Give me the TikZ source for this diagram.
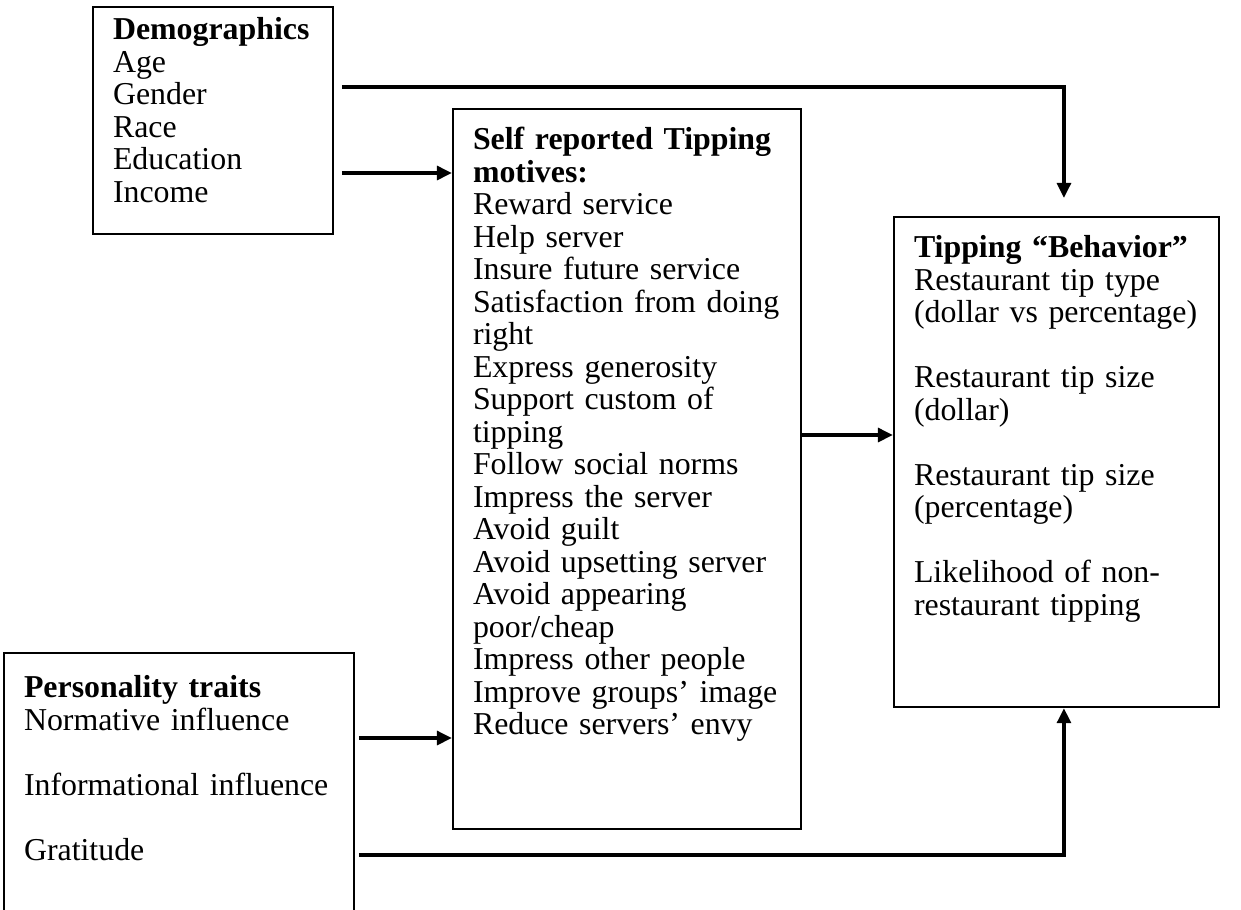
\documentclass[tikz,border=0pt]{standalone}
\usepackage{fontspec}
\setmainfont{Liberation Serif}
\usetikzlibrary{arrows.meta}

\begin{document}
\begin{tikzpicture}[
  x=0.4237pt,y=-0.4237pt,
  every node/.style={font=\fontsize{13.5pt}{13.77pt}\selectfont},
  box/.style={draw,line width=0.8pt,anchor=north west,align=left,inner xsep=8.5pt,inner ysep=0pt},
  arr/.style={-{Triangle[length=6.4pt,width=5.8pt]},line width=1.8pt}
]
\useasboundingbox (0,0) rectangle (1241,909);
\node[box,text width=84.7pt,text height=13.8pt,text depth=82.4pt] (demo) at (92,6)
  {\textbf{Demographics}\\Age\\Gender\\Race\\Education\\Income};
\node[box,text width=130.4pt,text height=17.2pt,text depth=287.9pt] (motives) at (452,108)
  {\textbf{Self reported Tipping}\\\textbf{motives:}\\Reward service\\Help server\\Insure future service\\
   Satisfaction from doing\\right\\Express generosity\\Support custom of\\tipping\\
   Follow social norms\\Impress the server\\Avoid guilt\\Avoid upsetting server\\
   Avoid appearing\\poor/cheap\\Impress other people\\Improve groups’ image\\Reduce servers’ envy};
\node[box,text width=120.7pt,text height=17.2pt,text depth=190.5pt] (behavior) at (893,216)
  {\textbf{Tipping “Behavior”}\\Restaurant tip type\\(dollar vs percentage)\\[13.77pt]
   Restaurant tip size\\(dollar)\\[13.77pt]Restaurant tip size\\(percentage)\\[13.77pt]
   Likelihood of non-\\restaurant tipping};
\node[box,text width=131.3pt,text height=18.9pt,text depth=98.9pt] (traits) at (3,652)
  {\textbf{Personality traits}\\Normative influence\\[13.77pt]Informational influence\\[13.77pt]Gratitude};
\coordinate (d1) at ([shift={(8,81)}]demo.north east);
\coordinate (d2) at ([shift={(8,167)}]demo.north east);
\coordinate (m1) at ([shift={(0,327)}]motives.north east);
\coordinate (t1) at ([shift={(4,86)}]traits.north east);
\coordinate (t2) at ([shift={(4,203)}]traits.north east);
\draw[arr,shorten >=7.6pt] (d1) -| ([shift={(7.5,0)}]behavior.north);
\draw[arr] (d2) -- (d2 -| motives.west);
\draw[arr] (t1) -- (t1 -| motives.west);
\draw[arr] (m1) -- (m1 -| behavior.west);
\draw[arr] (t2) -| ([shift={(7.5,0)}]behavior.south);
\end{tikzpicture}
\end{document}
